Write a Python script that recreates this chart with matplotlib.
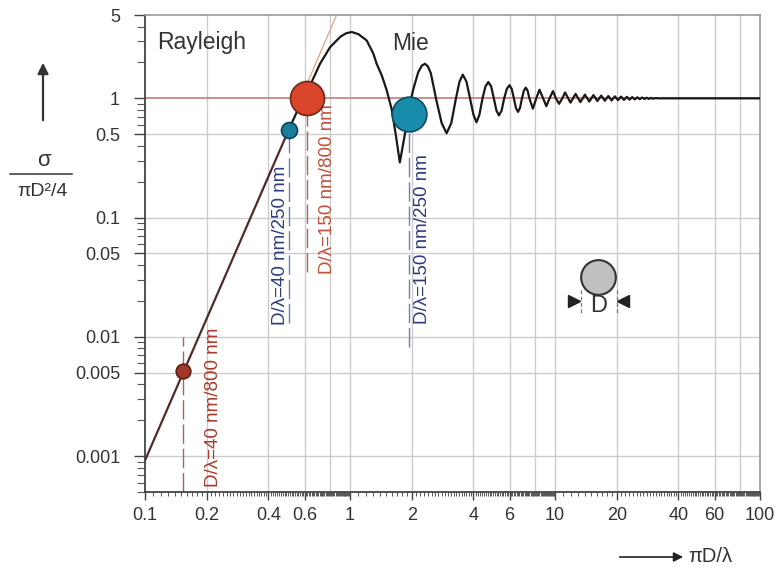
import numpy as np
import matplotlib
matplotlib.use("Agg")
import matplotlib.pyplot as plt
from matplotlib.lines import Line2D

plt.rcParams['font.family'] = ['Liberation Sans', 'DejaVu Sans']

# ---------------- data ----------------
# Rayleigh regime (straight line on log-log axes)
rayleigh_x = [0.1, 0.506]
rayleigh_y = [0.00092, 0.56]

# Mie regime curve
mie_x = [0.506, 0.56, 0.615, 0.65, 0.714, 0.80, 0.90, 0.96, 1.02, 1.10, 1.206, 1.30,
         1.349, 1.43, 1.51, 1.60, 1.68, 1.75, 1.81, 1.87, 1.95, 2.03, 2.15, 2.24, 2.32,
         2.40, 2.48, 2.64, 2.80, 2.96, 3.12, 3.28, 3.42, 3.55, 3.70, 3.85, 4.0, 4.14,
         4.28, 4.43, 4.58, 4.73, 4.88, 5.03, 5.18, 5.33, 5.49, 5.65, 5.82, 6.0, 6.15,
         6.3, 6.45, 6.6, 6.75, 6.9, 7.05, 7.2, 7.35, 7.5, 7.8, 8.1, 8.4, 8.75, 9.07, 9.4,
         9.78, 10.1, 10.47, 10.85, 11.2, 11.9, 12.6, 13.3, 14.0, 14.7, 15.4, 16.1,
         16.8, 17.5, 18.2, 18.9, 19.6, 20.3, 21.0, 21.7, 22.4, 23.1, 23.8, 24.5,
         25.2, 25.9, 26.6, 27.3, 28.0, 28.7, 29.4, 30.1, 31.0, 32.0, 100.0]
mie_y = [0.56, 0.82, 1.08, 1.37, 1.95, 2.69, 3.30, 3.52, 3.60, 3.45, 3.06, 2.37,
         1.95, 1.55, 1.17, 0.80, 0.47, 0.29, 0.40, 0.55, 0.85, 1.17, 1.65, 1.88, 1.95,
         1.85, 1.62, 0.96, 0.62, 0.51, 0.62, 0.98, 1.38, 1.58, 1.38, 1.0, 0.73, 0.63,
         0.73, 1.0, 1.26, 1.37, 1.26, 1.0, 0.79, 0.72, 0.79, 1.0, 1.2, 1.29, 1.2,
         1.0, 0.83, 0.77, 0.83, 1.0, 1.16, 1.23, 1.16, 1.0, 0.82, 1.0, 1.18, 1.0, 0.86, 1.0,
         1.15, 1.0, 0.90, 1.0, 1.12, 0.92, 1.09, 0.93, 1.075, 0.94, 1.065, 0.95,
         1.055, 0.955, 1.045, 0.96, 1.04, 0.965, 1.035, 0.97, 1.03, 0.975, 1.025, 0.98,
         1.02, 0.984, 1.016, 0.988, 1.012, 0.99, 1.009, 0.993, 1.005, 1.0, 1.0]

# thin continuation of the Rayleigh law
ext_x = [0.56, 0.86]
ext_y = [0.90, 5.0]

# highlighted points
pts_x = [0.153, 0.506, 0.615, 1.93]
pts_y = [0.0052, 0.547, 1.0, 0.74]
pts_size = [10.5, 11.5, 24.5, 25]
pts_face = ['#a3382a', '#1c7d9c', '#d8452b', '#1a8cab']
pts_edge = ['#5a1d14', '#0e4458', '#6a2a1a', '#0e4a5e']

# dashed drop lines (x, y_top, y_bottom)
drop_x = [0.153, 0.506, 0.615, 1.93]
drop_top = [0.010, 0.50, 0.80, 0.60]
drop_bot = [0.0005, 0.013, 0.035, 0.0082]
drop_col = ['#9a6a60', '#7080a8', '#9a6a60', '#7080a8']

# rotated labels
lab_text = ['D/λ=40 nm/800 nm', 'D/λ=40 nm/250 nm', 'D/λ=150 nm/800 nm', 'D/λ=150 nm/250 nm']
lab_x = [0.215, 0.456, 0.773, 2.27]
lab_y = [0.00257, 0.0585, 0.173, 0.0667]
lab_col = ['#a83a2a', '#2d3a7c', '#c0503a', '#2d3a7c']

xticks = [0.1, 0.2, 0.4, 0.6, 1, 2, 4, 6, 10, 20, 40, 60, 100]
xtick_labels = ['0.1', '0.2', '0.4', '0.6', '1', '2', '4', '6', '10', '20', '40', '60', '100']
yticks = [0.001, 0.005, 0.01, 0.05, 0.1, 0.5, 1, 5]
ytick_labels = ['0.001', '0.005', '0.01', '0.05', '0.1', '0.5', '1', '5']
xgrid = [0.2, 0.4, 0.6, 0.8, 1, 2, 4, 6, 8, 10, 20, 40, 60, 80]
ygrid = [0.001, 0.005, 0.01, 0.05, 0.1, 0.5]

# ---------------- figure ----------------
W, H = 782, 567
fig = plt.figure(figsize=(W / 100, H / 100), dpi=100)
ax = fig.add_axes([145 / W, 1 - 492 / H, 615 / W, 477 / H])
ax.set_xscale('log')
ax.set_yscale('log')
ax.set_xlim(0.1, 100)
ax.set_ylim(0.0005, 5)

for gx in xgrid:
    ax.axvline(gx, color='#cccccc', lw=1.0, zorder=0)
for gy in ygrid:
    ax.axhline(gy, color='#cccccc', lw=1.0, zorder=0)
ax.axhline(1.0, color='#c08a80', lw=1.3, zorder=1)

# ticks
ax.set_xticks(xticks)
ax.set_xticklabels(xtick_labels)
minor_x = []
for dec in [0.1, 1, 10]:
    minor_x += list(np.arange(1.0, 10.0, 0.1) * dec)
ax.set_xticks(minor_x, minor=True)
ax.set_yticks(yticks)
ax.set_yticklabels(ytick_labels)
minor_y = []
for dec in [0.0001, 0.001, 0.01, 0.1, 1]:
    minor_y += [k * dec for k in range(2, 10)]
minor_y = [v for v in minor_y if 0.0005 <= v <= 5]
ax.set_yticks(minor_y, minor=True)
ax.yaxis.set_minor_formatter(matplotlib.ticker.NullFormatter())
ax.xaxis.set_minor_formatter(matplotlib.ticker.NullFormatter())

ax.tick_params(axis='x', which='major', direction='out', length=6, width=1, color='#444',
               labelsize=13, labelcolor='#333', pad=5)
ax.tick_params(axis='x', which='minor', direction='out', length=3, width=0.7, color='#555')
ax.tick_params(axis='y', which='major', direction='out', length=8, width=1, color='#444',
               labelsize=13, labelcolor='#333', pad=10)
ax.tick_params(axis='y', which='minor', direction='out', length=6, width=0.8, color='#555')

for s in ['left', 'bottom']:
    ax.spines[s].set_color('#444')
    ax.spines[s].set_linewidth(1.3)
for s in ['top', 'right']:
    ax.spines[s].set_color('#999')
    ax.spines[s].set_linewidth(1.2)

# curves
ax.plot(ext_x, ext_y, color='#d9a58a', lw=0.9, zorder=2, clip_on=True)
ax.plot(rayleigh_x, rayleigh_y, color='#4e2b28', lw=1.6, zorder=3)
ax.plot(mie_x, mie_y, color='#1c1818', lw=1.6, zorder=3, solid_joinstyle='round')

# dashed drop lines
for x, t, b, c in zip(drop_x, drop_top, drop_bot, drop_col):
    ax.plot([x, x], [b, t], color=c, lw=1.0, dashes=(14, 3.5), zorder=2)

# points
for x, y, s, f, e in zip(pts_x, pts_y, pts_size, pts_face, pts_edge):
    ax.plot([x], [y], 'o', ms=s, mfc=f, mec=e, mew=1.2, zorder=5)

# rotated labels
for t, x, y, c in zip(lab_text, lab_x, lab_y, lab_col):
    ax.text(x, y, t, rotation=90, ha='center', va='center', fontsize=13.5, color=c, zorder=4)

# region labels
ax.text((157 - 145) / 615, (492 - 42) / 477, 'Rayleigh', transform=ax.transAxes,
        fontsize=16.5, color='#333', ha='left', va='center')
ax.text((392 - 145) / 615, (492 - 43) / 477, 'Mie', transform=ax.transAxes,
        fontsize=16.5, color='#333', ha='left', va='center')

# small sphere sketch with diameter D
def axpt(px, py):
    return ((px - 145) / 615, (492 - py) / 477)

cx, cy = axpt(598, 277)
ax.plot([cx], [cy], 'o', ms=25, mfc='#c0c0c0', mec='#333', mew=1.5, transform=ax.transAxes, zorder=5)
for px in [581, 617]:
    a0 = axpt(px, 290)
    a1 = axpt(px, 315)
    ax.plot([a0[0], a1[0]], [a0[1], a1[1]], color='#777', lw=0.9, dashes=(3, 2),
            transform=ax.transAxes, zorder=5)
la = axpt(574, 301)
ra = axpt(623, 301)
ax.plot([la[0]], [la[1]], marker='>', ms=8, color='#222', transform=ax.transAxes, zorder=5)
ax.plot([ra[0]], [ra[1]], marker='<', ms=8, color='#222', transform=ax.transAxes, zorder=5)
dx, dy = axpt(599, 306)
ax.text(dx, dy, 'D', transform=ax.transAxes, fontsize=17, color='#333', ha='center', va='center')

# y-axis label (arrow + fraction)
fig.patches.append(matplotlib.patches.FancyArrowPatch(
    (43 / W, 1 - 123 / H), (43 / W, 1 - 60 / H), transform=fig.transFigure,
    arrowstyle='-|>', mutation_scale=16, color='#333', lw=1.6))
fig.text(44 / W, 1 - 161 / H, 'σ', fontsize=16, color='#333', ha='center', va='center')
fig.add_artist(Line2D([10 / W, 72 / W], [1 - 174 / H, 1 - 174 / H], color='#333', lw=1.1,
                      transform=fig.transFigure))
fig.text(42 / W, 1 - 191 / H, 'πD²/4', fontsize=14, color='#333', ha='center', va='center')

# x-axis label
fig.patches.append(matplotlib.patches.FancyArrowPatch(
    (617 / W, 1 - 557 / H), (686 / W, 1 - 557 / H), transform=fig.transFigure,
    arrowstyle='-|>', mutation_scale=14, color='#222', lw=1.2))
fig.text(688 / W, 1 - 557 / H, 'πD/λ', fontsize=14.5, color='#333', ha='left', va='center')

fig.savefig('out.png', dpi=100)
